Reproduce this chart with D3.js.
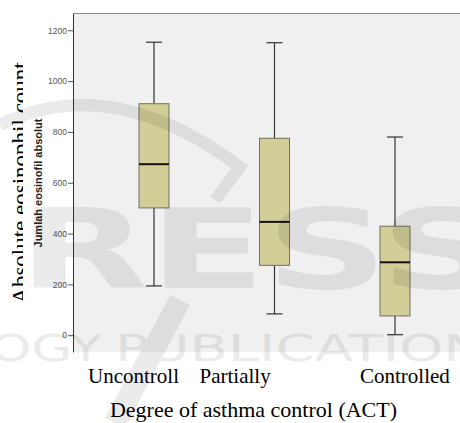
<!DOCTYPE html>
<html>
<head>
<meta charset="utf-8">
<script src="https://cdn.jsdelivr.net/npm/d3@7"></script>
<style>
  body { margin: 0; background: #fff; }
  svg { display: block; }
</style>
</head>
<body>
<div id="chart"></div>
<script>
// boxplot values
const categories = ["Uncontroll", "Partially", "Controlled"];
const whiskerLow = [194, 84, 2];
const q1 = [501, 275, 76];
const medians = [673, 446, 287];
const q3 = [911, 775, 429];
const whiskerHigh = [1153, 1151, 780];
const yTicks = [0, 200, 400, 600, 800, 1000, 1200];

const width = 460;
const height = 423;
const plotLeft = 73, plotTop = 13.5, plotBottom = 352;

const svg = d3.select("#chart").append("svg")
    .attr("width", width).attr("height", height);

// big serif label underneath, partly hidden by the spss picture
svg.append("text")
    .attr("transform", `translate(27.5, 183) rotate(-90)`)
    .attr("text-anchor", "middle")
    .attr("font-family", "Liberation Serif, Times New Roman, serif")
    .attr("font-size", 23)
    .attr("fill", "#000")
    .text("Absolute eosinophil count");

svg.append("rect")
    .attr("x", 23).attr("y", 0)
    .attr("width", width - 23).attr("height", 362)
    .attr("fill", "#fff");

// plot area
svg.append("rect")
    .attr("x", plotLeft).attr("y", plotTop)
    .attr("width", width - plotLeft).attr("height", plotBottom - plotTop)
    .attr("fill", "#f0f0f0");

svg.append("line")
    .attr("x1", plotLeft).attr("x2", width)
    .attr("y1", plotTop).attr("y2", plotTop)
    .attr("stroke", "#8a8a8a").attr("stroke-width", 1);

const y = d3.scaleLinear().domain([-66, 1266]).range([plotBottom, plotTop]);
const x = d3.scalePoint().domain(categories).range([plotLeft + 81, plotLeft + 322]);

const yAxis = svg.append("g")
    .attr("transform", `translate(${plotLeft}, 0)`)
    .call(d3.axisLeft(y).tickValues(yTicks).tickFormat(d3.format("d"))
        .tickSize(5).tickPadding(1).tickSizeOuter(0));
yAxis.select(".domain").attr("stroke", "#333");
yAxis.selectAll(".tick line").attr("stroke", "#555");
yAxis.selectAll("text")
    .attr("font-family", "Liberation Sans, Arial, sans-serif")
    .attr("font-size", 8.5)
    .attr("fill", "#555");

svg.append("text")
    .attr("transform", `translate(42, 183) rotate(-90)`)
    .attr("text-anchor", "middle")
    .attr("font-family", "Liberation Sans, Arial, sans-serif")
    .attr("font-weight", "bold")
    .attr("font-size", 11)
    .attr("fill", "#222")
    .text("Jumlah eosinofil absolut");

const boxes = categories.map((c, i) => ({
    cat: c, lo: whiskerLow[i], q1: q1[i], med: medians[i], q3: q3[i], hi: whiskerHigh[i]
}));

const boxW = 30, capW = 16;

const g = svg.append("g").selectAll("g")
    .data(boxes).enter()
    .append("g");

// whiskers
g.append("line")
    .attr("x1", d => x(d.cat)).attr("x2", d => x(d.cat))
    .attr("y1", d => y(d.q3)).attr("y2", d => y(d.hi))
    .attr("stroke", "#333").attr("stroke-width", 1.2);
g.append("line")
    .attr("x1", d => x(d.cat)).attr("x2", d => x(d.cat))
    .attr("y1", d => y(d.q1)).attr("y2", d => y(d.lo))
    .attr("stroke", "#333").attr("stroke-width", 1.2);
g.append("line")
    .attr("x1", d => x(d.cat) - capW / 2).attr("x2", d => x(d.cat) + capW / 2)
    .attr("y1", d => y(d.hi)).attr("y2", d => y(d.hi))
    .attr("stroke", "#333").attr("stroke-width", 1.2);
g.append("line")
    .attr("x1", d => x(d.cat) - capW / 2).attr("x2", d => x(d.cat) + capW / 2)
    .attr("y1", d => y(d.lo)).attr("y2", d => y(d.lo))
    .attr("stroke", "#333").attr("stroke-width", 1.2);

// boxes
g.append("rect")
    .attr("x", d => x(d.cat) - boxW / 2)
    .attr("y", d => y(d.q3))
    .attr("width", boxW)
    .attr("height", d => y(d.q1) - y(d.q3))
    .attr("fill", "#d1ce98")
    .attr("stroke", "#707064").attr("stroke-width", 1);

g.append("line")
    .attr("x1", d => x(d.cat) - boxW / 2).attr("x2", d => x(d.cat) + boxW / 2)
    .attr("y1", d => y(d.med)).attr("y2", d => y(d.med))
    .attr("stroke", "#111").attr("stroke-width", 2);

// category labels (pasted below the picture, not centred on the boxes)
const labelShift = [-66, -75, -35];
svg.append("g").selectAll("text")
    .data(categories).enter()
    .append("text")
    .attr("x", (d, i) => x(d) + labelShift[i])
    .attr("y", 383)
    .attr("font-family", "Liberation Serif, Times New Roman, serif")
    .attr("font-size", 21)
    .attr("fill", "#000")
    .text(d => d);

svg.append("text")
    .attr("x", 253.5).attr("y", 417)
    .attr("text-anchor", "middle")
    .attr("font-family", "Liberation Serif, Times New Roman, serif")
    .attr("font-size", 22)
    .attr("fill", "#000")
    .text("Degree of asthma control (ACT)");

// faint publisher watermark over everything
const wm = svg.append("g").attr("fill", "#000").attr("opacity", 0.075);
wm.append("text")
    .attr("x", 18).attr("y", 288)
    .attr("font-family", "DejaVu Sans, sans-serif")
    .attr("font-weight", "bold")
    .attr("font-size", 110)
    .attr("textLength", 485).attr("lengthAdjust", "spacingAndGlyphs")
    .text("RESS");
wm.append("text")
    .attr("x", -10).attr("y", 361)
    .attr("font-family", "DejaVu Sans, sans-serif")
    .attr("font-size", 37)
    .attr("textLength", 112).attr("lengthAdjust", "spacingAndGlyphs")
    .text("OGY");
wm.append("text")
    .attr("x", 115).attr("y", 361)
    .attr("font-family", "DejaVu Sans, sans-serif")
    .attr("font-size", 37)
    .attr("textLength", 370).attr("lengthAdjust", "spacingAndGlyphs")
    .text("PUBLICATION");
wm.append("path")
    .attr("d", "M0,125 Q110,70 240,167 L215,200")
    .attr("fill", "none").attr("stroke", "#000").attr("stroke-width", 12);
wm.append("path")
    .attr("d", "M180,300 L115,423")
    .attr("fill", "none").attr("stroke", "#000").attr("stroke-width", 22);
</script>
</body>
</html>
